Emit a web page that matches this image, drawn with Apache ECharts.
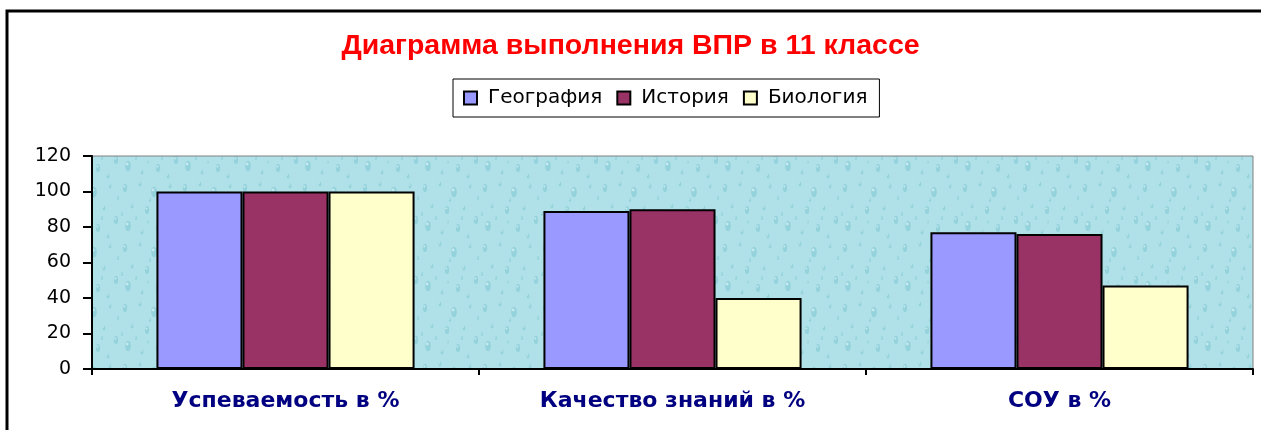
<!DOCTYPE html>
<html>
<head>
<meta charset="utf-8">
<script src="https://cdn.jsdelivr.net/npm/echarts@6/dist/echarts.min.js"></script>
<style>
  html, body { margin: 0; padding: 0; background: #fff; }
  #chart { width: 1261px; height: 430px; }
</style>
</head>
<body>
<div id="chart"></div>
<script>
const categories = ['Успеваемость в %', 'Качество знаний в %', 'СОУ в %']
const seriesNames = ['География', 'История', 'Биология']
const geography = [100, 89, 77]
const history = [100, 90, 76]
const biology = [100, 40, 47]
const yTicks = [0, 20, 40, 60, 80, 100, 120]

const colors = ['#9999ff', '#993366', '#ffffcc']

// water-drop like texture for the plot area
function makeTexture () {
  let c = document.createElement('canvas')
  c.width = 60
  c.height = 60
  let ctx = c.getContext('2d')
  ctx.fillStyle = '#b0e1e8'
  ctx.fillRect(0, 0, 60, 60)
  let drops = [[5, 8, 3], [20, 4, 2], [34, 12, 4], [50, 6, 2], [12, 26, 2], [27, 30, 3],
    [44, 28, 2], [56, 40, 3], [8, 46, 4], [22, 52, 2], [38, 48, 3], [48, 56, 2], [30, 20, 1.5], [2, 34, 1.5],
    [16, 38, 1.5], [42, 38, 1.5], [58, 18, 1.5], [28, 42, 1.2]]
  drops.forEach(d => {
    ctx.fillStyle = 'rgba(120,195,208,0.5)'
    ctx.beginPath()
    ctx.ellipse(d[0], d[1], d[2] * 0.7, d[2] * 1.3, 0, 0, Math.PI * 2)
    ctx.fill()
    ctx.fillStyle = 'rgba(230,248,250,0.6)'
    ctx.beginPath()
    ctx.arc(d[0] - d[2] * 0.2, d[1] - d[2] * 0.5, d[2] * 0.35, 0, Math.PI * 2)
    ctx.fill()
  })
  return c
}

let myChart = echarts.init(document.getElementById('chart'))
let barSeries = [geography, history, biology].map((data, i) => ({
  name: seriesNames[i],
  type: 'bar',
  data: data,
  barGap: '0%',
  barCategoryGap: '33.3%',
  itemStyle: {
    color: colors[i],
    borderColor: '#000',
    borderWidth: 2
  }
}))

let option = {
  animation: false,
  backgroundColor: '#fff',
  title: {
    text: 'Диаграмма выполнения ВПР в 11 классе',
    left: 'center',
    top: 27,
    textStyle: {
      color: '#ff0000',
      fontFamily: 'Arial, "Liberation Sans", sans-serif',
      fontWeight: 'bold',
      fontSize: 28.5
    }
  },
  legend: {
    data: seriesNames,
    top: 79,
    left: 453,
    borderColor: '#000',
    borderWidth: 1,
    padding: [9, 12, 9, 10],
    itemWidth: 13,
    itemHeight: 13,
    itemGap: 14,
    icon: 'rect',
    textStyle: {
      color: '#000',
      fontFamily: '"DejaVu Sans", sans-serif',
      fontSize: 20,
      padding: [0, 0, 0, 6]
    }
  },
  grid: {
    left: 92,
    right: 8,
    top: 156,
    bottom: 61,
    show: true,
    backgroundColor: { image: makeTexture(), repeat: 'repeat' },
    borderColor: '#808080',
    borderWidth: 1
  },
  xAxis: {
    type: 'category',
    data: categories,
    axisLine: { lineStyle: { color: '#000', width: 2 } },
    axisTick: { show: true, length: 6, lineStyle: { color: '#000', width: 2 } },
    axisLabel: {
      margin: 21,
      color: '#000080',
      fontFamily: '"DejaVu Sans", sans-serif',
      fontWeight: 'bold',
      fontSize: 22
    }
  },
  yAxis: {
    type: 'value',
    min: yTicks[0],
    max: yTicks[yTicks.length - 1],
    interval: 20,
    splitLine: { show: false },
    axisLine: { show: true, lineStyle: { color: '#000', width: 2 } },
    axisTick: { show: true, length: 9, lineStyle: { color: '#000', width: 2 } },
    axisLabel: {
      margin: 21,
      color: '#000',
      fontFamily: '"DejaVu Sans", sans-serif',
      fontSize: 19
    }
  },
  graphic: [{
    type: 'rect',
    shape: { x: 7, y: 11, width: 1270, height: 440 },
    style: { fill: 'none', stroke: '#000', lineWidth: 3 },
    silent: true
  }],
  series: barSeries
}
myChart.setOption(option)
</script>
</body>
</html>
